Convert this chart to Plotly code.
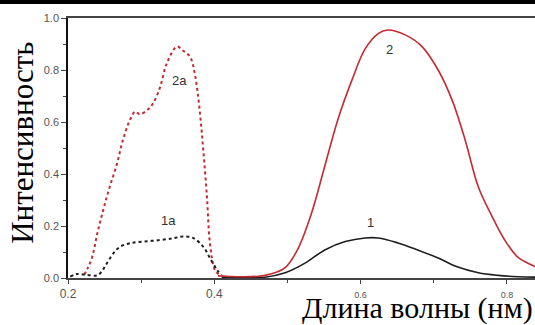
import plotly.graph_objects as go

# Curve 2 (red solid)
x2 = [0.405, 0.42, 0.44, 0.46, 0.469, 0.483, 0.497, 0.514, 0.533, 0.551, 0.569, 0.588, 0.606,
      0.624, 0.637, 0.661, 0.684, 0.706, 0.725, 0.743, 0.761, 0.780, 0.797, 0.815, 0.834, 0.85]
y2 = [0.008, 0.006, 0.005, 0.007, 0.010, 0.02, 0.04, 0.11, 0.25, 0.43, 0.61, 0.76, 0.88,
      0.94, 0.954, 0.935, 0.89, 0.80, 0.685, 0.53, 0.35, 0.235, 0.146, 0.08, 0.05, 0.03]

# Curve 1 (black solid)
x1 = [0.41, 0.44, 0.469, 0.497, 0.524, 0.551, 0.579, 0.606, 0.624, 0.651, 0.678, 0.706,
      0.733, 0.761, 0.788, 0.815, 0.85]
y1 = [0.003, 0.002, 0.003, 0.02, 0.057, 0.108, 0.14, 0.154, 0.154, 0.135, 0.108, 0.077,
      0.042, 0.02, 0.01, 0.005, 0.003]

# Curve 2a (red dotted)
x2a = [0.222, 0.227, 0.233, 0.240, 0.248, 0.257, 0.267, 0.275, 0.285, 0.292, 0.298, 0.308,
       0.316, 0.326, 0.335, 0.349, 0.357, 0.367, 0.374, 0.380, 0.385, 0.390, 0.394, 0.401, 0.408]
y2a = [0.012, 0.038, 0.08, 0.17, 0.26, 0.35, 0.44, 0.53, 0.61, 0.64, 0.63, 0.645,
       0.67, 0.735, 0.825, 0.89, 0.875, 0.85, 0.775, 0.645, 0.49, 0.31, 0.135, 0.03, 0.01]

# Curve 1a (black dotted)
x1a = [0.203, 0.212, 0.226, 0.240, 0.246, 0.253, 0.262, 0.271, 0.285, 0.303, 0.326, 0.344,
       0.357, 0.371, 0.385, 0.394, 0.404, 0.410]
y1a = [0.005, 0.015, 0.012, 0.01, 0.025, 0.056, 0.095, 0.12, 0.134, 0.14, 0.146, 0.153,
       0.16, 0.154, 0.12, 0.077, 0.03, 0.01]

curve_labels = ["2a", "1a", "2", "1"]
label_x = [0.353, 0.337, 0.64, 0.614]
label_y = [0.76, 0.22, 0.88, 0.215]

x_ticks = [0.2, 0.4, 0.6, 0.8]
x_ticklabels = ["0.2", "0.4", '<span style="font-size:9px">0.6</span>',
                '<span style="font-size:9px">0.8</span>']
y_ticks = [0.0, 0.2, 0.4, 0.6, 0.8, 1.0]
y_ticklabels = ["0.0", "0.2", "0.4", "0.6", "0.8", "1.0"]

RED = "#c62a30"
BLK = "#1e1e1e"

fig = go.Figure()
fig.add_trace(go.Scatter(x=x2a, y=y2a, mode="lines",
                         line=dict(color=RED, width=2, dash="dot", shape="spline")))
fig.add_trace(go.Scatter(x=x1a, y=y1a, mode="lines",
                         line=dict(color=BLK, width=2, dash="dot", shape="spline")))
fig.add_trace(go.Scatter(x=x1, y=y1, mode="lines",
                         line=dict(color=BLK, width=1.6, shape="spline")))
fig.add_trace(go.Scatter(x=x2, y=y2, mode="lines",
                         line=dict(color=RED, width=1.6, shape="spline")))

for t, xx, yy in zip(curve_labels, label_x, label_y):
    fig.add_annotation(x=xx, y=yy, text=t, showarrow=False,
                       font=dict(family="Liberation Sans, Arial", size=13, color="#333333"))

fig.add_annotation(xref="paper", yref="paper", x=1.0, y=0, yshift=-49,
                   xanchor="right", yanchor="bottom", text="Длина волны (нм)", showarrow=False,
                   font=dict(family="Liberation Serif, Times New Roman", size=30, color="#000000"))
fig.add_annotation(xref="paper", yref="paper", x=0, xshift=-45, y=0.52,
                   xanchor="center", yanchor="middle", textangle=-90, text="Интенсивность",
                   showarrow=False,
                   font=dict(family="Liberation Serif, Times New Roman", size=31, color="#000000"))

# black band at the very top of the image
fig.add_shape(type="rect", xref="paper", yref="paper", x0=-0.3, x1=1.1,
              y0=1 + 14 / 260, y1=1 + 20 / 260, fillcolor="#000000", line=dict(width=0))

fig.update_layout(
    width=535, height=325,
    margin=dict(l=68, r=0, t=18, b=47),
    paper_bgcolor="white", plot_bgcolor="white",
    showlegend=False,
    xaxis=dict(range=[0.2, 0.2 + 467 / 731.5], tickvals=x_ticks, ticktext=x_ticklabels,
               showgrid=False, zeroline=False, showline=True, linecolor="#444444", linewidth=1.5,
               mirror=True, ticks="outside", ticklen=4, tickcolor="#444444",
               minor=dict(dtick=0.1, ticks="outside", ticklen=3, tickcolor="#444444"),
               tickfont=dict(family="Liberation Sans, Arial", size=12, color="#555555")),
    yaxis=dict(range=[0, 1.0], tickvals=y_ticks, ticktext=y_ticklabels,
               showgrid=False, zeroline=False, showline=True, linecolor="#111111", linewidth=1.5,
               ticks="outside", ticklen=5, tickcolor="#444444",
               minor=dict(dtick=0.1, ticks="outside", ticklen=3, tickcolor="#444444"),
               tickfont=dict(family="Liberation Sans, Arial", size=11, color="#555555")),
)

fig.write_html("out.html")
